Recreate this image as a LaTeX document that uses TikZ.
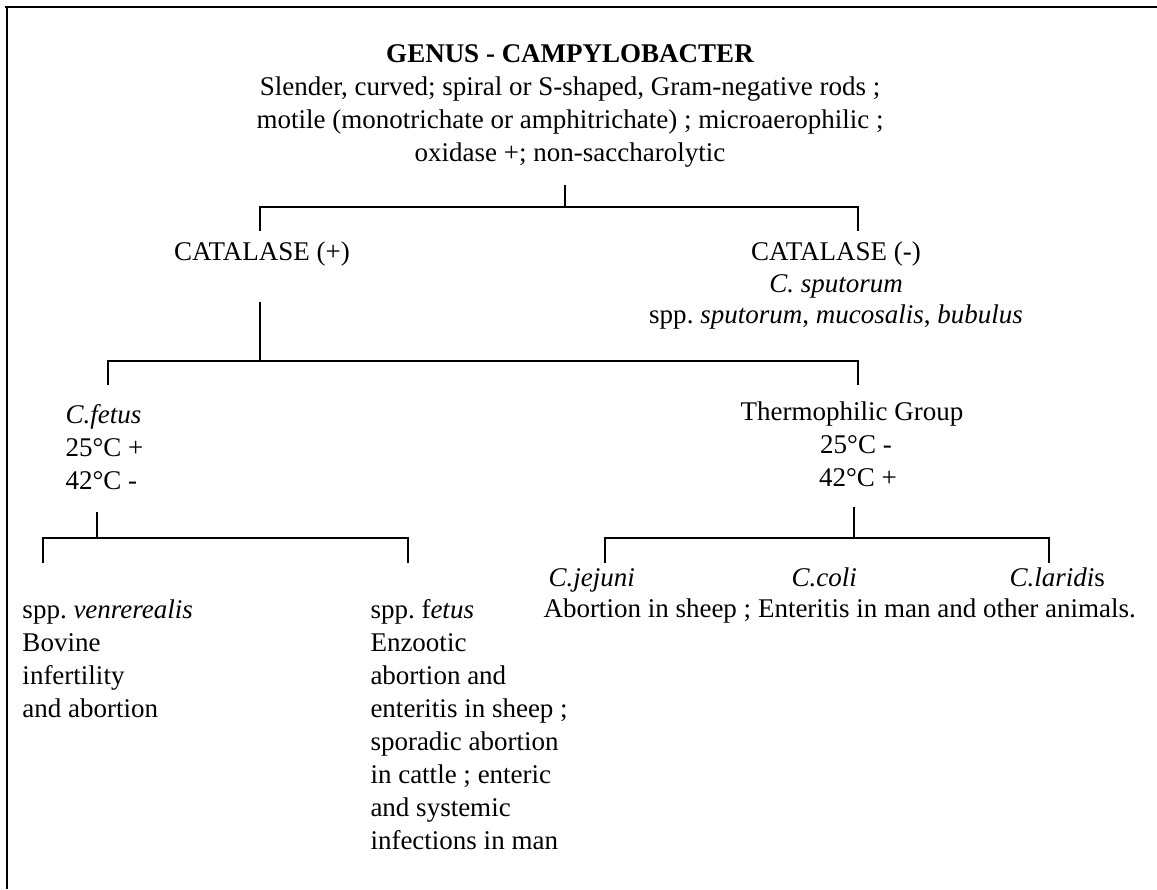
\documentclass[tikz,border=0pt]{standalone}
\usepackage{fontspec}
\setmainfont{Liberation Serif}
\usetikzlibrary{positioning}
\frenchspacing

\begin{document}
\begin{tikzpicture}[x=0.4pt, y=-0.4pt,
  txt/.style={inner sep=0pt, font=\fontsize{10.8}{13.2}\selectfont},
  treeline/.style={line width=0.6pt}]
  \useasboundingbox (0,0) rectangle (1157,889);

  % Frame (top and left edge only)
  \draw[line width=1pt] (5,7) -- (1157,7);
  \draw[line width=0.7pt] (7,7) -- (7,889);

  % Genus header
  \node[txt, anchor=base, font=\fontsize{10.8}{13.2}\selectfont\bfseries] (genus) at (570,62) {GENUS - CAMPYLOBACTER};
  \node[txt, anchor=base] (desc1) at (570,95) {Slender, curved; spiral or S-shaped, Gram-negative rods ;};
  \node[txt, anchor=base] (desc2) at (570,128) {motile (monotrichate or amphitrichate) ; microaerophilic ;};
  \node[txt, anchor=base] (desc3) at (570,161) {oxidase +; non-saccharolytic};

  % Split 1: catalase
  \coordinate (r0) at (565,185);
  \coordinate (r1) at (565,207);
  \coordinate (b0l) at (260,207);
  \coordinate (b0r) at (858,207);
  \coordinate (d0l) at (260,231);
  \coordinate (d0r) at (858,231);
  \draw[treeline] (r0) -- (r1);
  \draw[treeline] (d0l) -- (b0l) -- (b0r) -- (d0r);

  \node[txt, anchor=base] (catpos) at (262,260) {CATALASE (+)};
  \node[txt, anchor=base] (catneg) at (836,260) {CATALASE (-)};
  \node[txt, anchor=base] (sput) at (836,292) {\textit{C. sputorum}};
  \node[txt, anchor=base] (sputspp) at (836,323) {spp. \textit{sputorum}, \textit{mucosalis}, \textit{bubulus}};

  % Split 2: temperature groups
  \coordinate (c1t) at (260,302);
  \coordinate (c1b) at (260,361);
  \coordinate (b1l) at (108,361);
  \coordinate (b1r) at (858,361);
  \coordinate (d1l) at (108,385);
  \coordinate (d1r) at (858,385);
  \draw[treeline] (c1t) -- (c1b);
  \draw[treeline] (d1l) -- (b1l) -- (b1r) -- (d1r);

  \node[txt, anchor=base west] (cfetus) at (65,423) {\textit{C.fetus}};
  \node[txt, anchor=base west] (cf25) at (65,456) {25°C +};
  \node[txt, anchor=base west] (cf42) at (65,489) {42°C -};
  \node[txt, anchor=base] (thermo) at (852,420) {Thermophilic Group};
  \node[txt, anchor=base] (th25) at (856,453) {25°C -};
  \node[txt, anchor=base] (th42) at (858,486) {42°C +};

  % Split 3a: C. fetus subspecies
  \coordinate (c2t) at (97,512);
  \coordinate (c2b) at (97,538);
  \coordinate (b2l) at (43,538);
  \coordinate (b2r) at (408,538);
  \coordinate (d2l) at (43,563);
  \coordinate (d2r) at (408,563);
  \draw[treeline] (c2t) -- (c2b);
  \draw[treeline] (d2l) -- (b2l) -- (b2r) -- (d2r);

  \node[txt, anchor=north west, align=left] (venr) at (22,599) {spp. \textit{venrerealis}\\
    Bovine\\
    infertility\\
    and abortion};
  \node[txt, anchor=north west, align=left] (fetusspp) at (370,599) {spp. f\textit{etus}\\
    Enzootic\\
    abortion and\\
    enteritis in sheep ;\\
    sporadic abortion\\
    in cattle ; enteric\\
    and systemic\\
    infections in man};

  % Split 3b: thermophilic species
  \coordinate (c3t) at (854,507);
  \coordinate (c3b) at (854,538);
  \coordinate (b3l) at (605,538);
  \coordinate (b3r) at (1049,538);
  \coordinate (d3l) at (605,563);
  \coordinate (d3r) at (1049,563);
  \draw[treeline] (c3t) -- (c3b);
  \draw[treeline] (d3l) -- (b3l) -- (b3r) -- (d3r);

  \node[txt, anchor=base west] (jejuni) at (548,586) {\textit{C.jejuni}};
  \node[txt, anchor=base west] (coli) at (791,586) {\textit{C.coli}};
  \node[txt, anchor=base west] (laridis) at (1009,586) {\textit{C.laridi}s};
  \node[txt, anchor=base west] (thermodis) at (543,617) {Abortion in sheep ; Enteritis in man and other animals.};
\end{tikzpicture}
\end{document}
